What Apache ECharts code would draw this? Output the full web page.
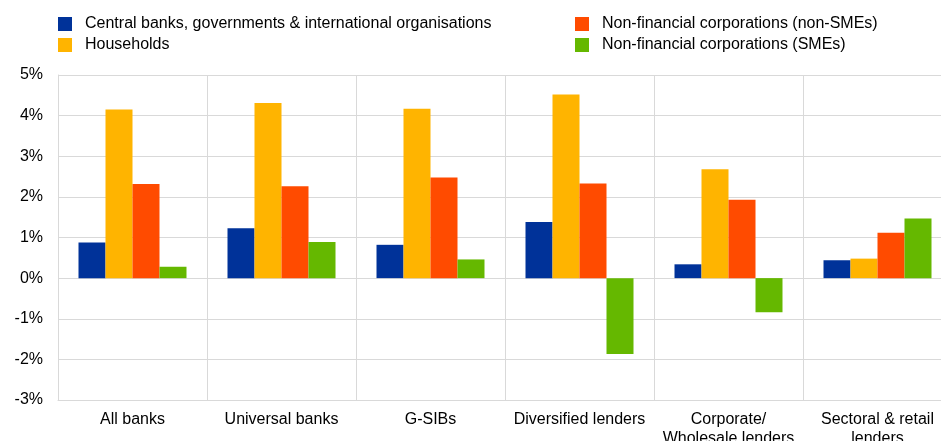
<!DOCTYPE html>
<html>
<head>
<meta charset="utf-8">
<script src="https://cdn.jsdelivr.net/npm/echarts@6/dist/echarts.min.js"></script>
<style>
  html, body { margin: 0; padding: 0; background: #fff; }
  #chart { width: 941px; height: 441px; }
</style>
</head>
<body>
<div id="chart"></div>
<script>
// bank business model categories
const categories = ['All banks', 'Universal banks', 'G-SIBs', 'Diversified lenders', 'Corporate/\nWholesale lenders', 'Sectoral & retail\nlenders'];

// values in %
const centralBanks = [0.88, 1.23, 0.82, 1.38, 0.34, 0.44];
const households = [4.15, 4.31, 4.17, 4.52, 2.68, 0.48];
const nfcNonSme = [2.32, 2.26, 2.48, 2.33, 1.93, 1.12];
const nfcSme = [0.28, 0.89, 0.46, -1.87, -0.84, 1.47];

const seriesNames = [
    'Central banks, governments & international organisations',
    'Households',
    'Non-financial corporations (non-SMEs)',
    'Non-financial corporations (SMEs)'
];
const colors = ['#003299', '#ffb400', '#ff4b00', '#65b800'];

const chart = echarts.init(document.getElementById('chart'));

const gridColor = '#d9d9d9';
const font = 'Arial, "Liberation Sans", sans-serif';

const legendBase = {
    orient: 'vertical',
    top: 16,
    padding: 0,
    icon: 'rect',
    itemWidth: 14,
    itemHeight: 14,
    itemGap: 5,
    textStyle: { fontFamily: font, fontSize: 16, color: '#000', lineHeight: 14, padding: [0, 0, 0, 8] }
};

const option = {
    animation: false,
    color: colors,
    legend: [
        Object.assign({}, legendBase, { left: 58, data: [seriesNames[0], seriesNames[1]] }),
        Object.assign({}, legendBase, { left: 575, data: [seriesNames[2], seriesNames[3]] })
    ],
    grid: { left: 58, top: 75, bottom: 41, right: -11, outerBoundsMode: 'none' },
    xAxis: {
        type: 'category',
        data: categories,
        position: 'bottom',
        axisLine: { onZero: false, lineStyle: { color: gridColor, width: 1 } },
        axisTick: { show: false },
        splitLine: { show: true, lineStyle: { color: gridColor, width: 1 } },
        axisLabel: { interval: 0, fontFamily: font, fontSize: 16, color: '#000', margin: 10, lineHeight: 19 }
    },
    yAxis: {
        type: 'value',
        min: -3,
        max: 5,
        interval: 1,
        axisLine: { show: true, lineStyle: { color: gridColor, width: 1 } },
        axisTick: { show: false },
        splitLine: { lineStyle: { color: gridColor, width: 1 } },
        axisLabel: { formatter: '{value}%', fontFamily: font, fontSize: 16, color: '#000', margin: 15 }
    },
    series: [centralBanks, households, nfcNonSme, nfcSme].map((vals, i) => ({
        name: seriesNames[i],
        type: 'bar',
        data: vals,
        barWidth: 27,
        barGap: '0%'
    }))
};

chart.setOption(option);
</script>
</body>
</html>
